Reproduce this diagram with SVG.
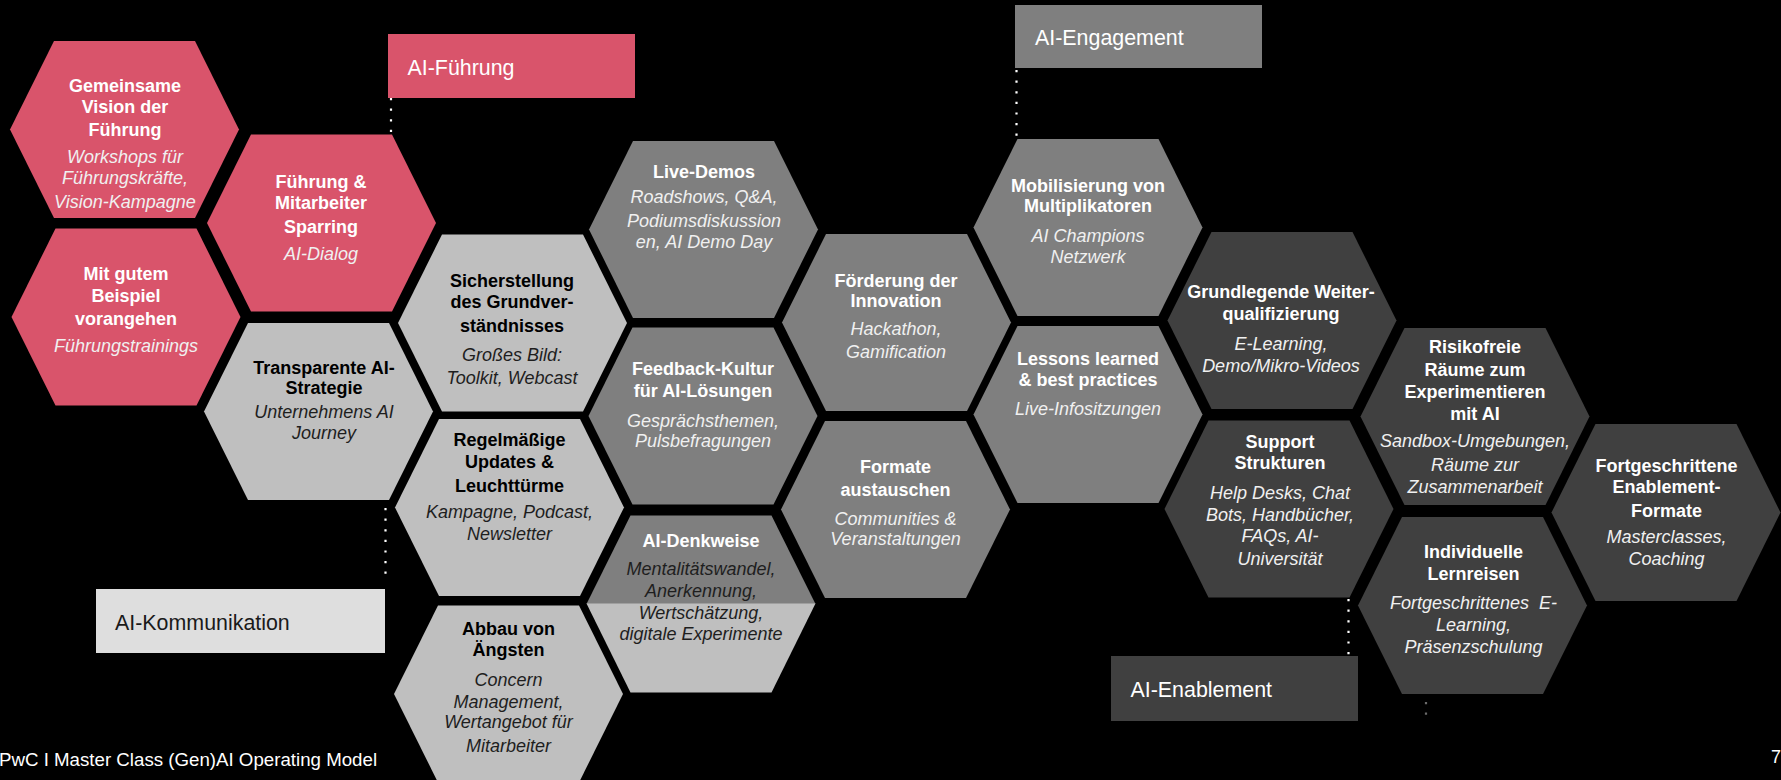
<svg xmlns="http://www.w3.org/2000/svg" xmlns:xlink="http://www.w3.org/1999/xlink" width="1781" height="780" viewBox="0 0 1781 780">
<style>
.bg{fill:#000}
.red{fill:#d9546b}
.lt{fill:#bfbfbf}
.md{fill:#7f7f7f}
.dk{fill:#404040}
text{font-family:"Liberation Sans",Arial,Helvetica,sans-serif;text-anchor:middle;font-size:18px}
.b{font-weight:bold}
.i{font-style:italic}
.w{fill:#ffffff}
.wi{fill:#f0f0f0}
.k{fill:#000000}
.ki{fill:#1e1e1e}
.lab{font-size:21.4px;text-anchor:start}
.dot{stroke:#ffffff;stroke-width:2.2;stroke-dasharray:2.2 8.4;fill:none}
</style>
<defs>
<polygon id="hex" points="-114.5,0 -70.5,-88.5 70.5,-88.5 114.5,0 70.5,88.5 -70.5,88.5"/>
</defs>
<rect class="bg" x="0" y="0" width="1781" height="780"/>

<g id="connectors">
<line class="dot" x1="391" y1="98" x2="391" y2="134"/>
<line class="dot" x1="1016.5" y1="70" x2="1016.5" y2="140"/>
<line class="dot" x1="385.5" y1="508" x2="385.5" y2="580"/>
<line class="dot" x1="1348.5" y1="599" x2="1348.5" y2="656"/>
<line class="dot" x1="1426" y1="702" x2="1426" y2="716" style="stroke:#6a6a6a"/>
</g>

<g id="label-fuehrung">
<rect class="red" x="388" y="34" width="247" height="64"/>
<text class="lab w" x="407.5" y="75">AI-Führung</text>
</g>
<g id="label-engagement">
<rect class="md" x="1015" y="5" width="247" height="63"/>
<text class="lab w" x="1035" y="45">AI-Engagement</text>
</g>
<g id="label-kommunikation">
<rect x="96" y="589" width="289" height="64" fill="#dedede"/>
<text class="lab" x="115" y="630" fill="#1a1a1a">AI-Kommunikation</text>
</g>
<g id="label-enablement">
<rect class="dk" x="1111" y="656" width="247" height="65"/>
<text class="lab w" x="1130.5" y="697">AI-Enablement</text>
</g>

<g id="n1">
<use href="#hex" class="red" transform="translate(124.5,129.5)"/>
<text class="b w" x="125" y="91.7">Gemeinsame</text>
<text class="b w" x="125" y="112.7">Vision der</text>
<text class="b w" x="125" y="136">Führung</text>
<text class="i wi" x="125" y="163.3">Workshops für</text>
<text class="i wi" x="125" y="184">Führungskräfte,</text>
<text class="i wi" x="125" y="208">Vision-Kampagne</text>
</g>
<g id="n2">
<use href="#hex" class="red" transform="translate(126,317)"/>
<text class="b w" x="126" y="280">Mit gutem</text>
<text class="b w" x="126" y="301.7">Beispiel</text>
<text class="b w" x="126" y="325">vorangehen</text>
<text class="i wi" x="126" y="351.7">Führungstrainings</text>
</g>
<g id="n3">
<use href="#hex" class="red" transform="translate(321.5,223)"/>
<text class="b w" x="321" y="187.7">Führung &amp;</text>
<text class="b w" x="321" y="209.3">Mitarbeiter</text>
<text class="b w" x="321" y="232.7">Sparring</text>
<text class="i wi" x="321" y="260">AI-Dialog</text>
</g>

<g id="n4">
<use href="#hex" class="lt" transform="translate(318.5,411.5)"/>
<text class="b k" x="324" y="374">Transparente AI-</text>
<text class="b k" x="324" y="394">Strategie</text>
<text class="i ki" x="324" y="418.3">Unternehmens AI</text>
<text class="i ki" x="324" y="439.3">Journey</text>
</g>
<g id="n5">
<use href="#hex" class="lt" transform="translate(512.5,323)"/>
<text class="b k" x="512" y="287.3">Sicherstellung</text>
<text class="b k" x="512" y="308.3">des Grundver-</text>
<text class="b k" x="512" y="331.7">ständnisses</text>
<text class="i ki" x="512" y="361">Großes Bild:</text>
<text class="i ki" x="512" y="384">Toolkit, Webcast</text>
</g>
<g id="n6">
<use href="#hex" class="lt" transform="translate(509.5,507.5)"/>
<text class="b k" x="509.5" y="446">Regelmäßige</text>
<text class="b k" x="509.5" y="468.3">Updates &amp;</text>
<text class="b k" x="509.5" y="491.7">Leuchttürme</text>
<text class="i ki" x="509.5" y="518.3">Kampagne, Podcast,</text>
<text class="i ki" x="509.5" y="540">Newsletter</text>
</g>
<g id="n7">
<use href="#hex" class="lt" transform="translate(508.5,694)"/>
<text class="b k" x="508.5" y="635">Abbau von</text>
<text class="b k" x="508.5" y="656">Ängsten</text>
<text class="i ki" x="508.5" y="686">Concern</text>
<text class="i ki" x="508.5" y="707.7">Management,</text>
<text class="i ki" x="508.5" y="728.3">Wertangebot für</text>
<text class="i ki" x="508.5" y="751.7">Mitarbeiter</text>
</g>

<g id="n8">
<use href="#hex" class="md" transform="translate(703.5,229.5)"/>
<text class="b w" x="704" y="177.7">Live-Demos</text>
<text class="i wi" x="704" y="203.3">Roadshows, Q&amp;A,</text>
<text class="i wi" x="704" y="226.7">Podiumsdiskussion</text>
<text class="i wi" x="704" y="248.3">en, AI Demo Day</text>
</g>
<g id="n9">
<use href="#hex" class="md" transform="translate(703,416)"/>
<text class="b w" x="703" y="375">Feedback-Kultur</text>
<text class="b w" x="703" y="396.7">für AI-Lösungen</text>
<text class="i wi" x="703" y="426.7">Gesprächsthemen,</text>
<text class="i wi" x="703" y="446.7">Pulsbefragungen</text>
</g>
<g id="n10">
<polygon class="md" points="586.5,604 630.5,515.5 771.5,515.5 815.5,604"/>
<polygon class="lt" points="586.5,603.5 815.5,603.5 771.5,692.5 630.5,692.5"/>
<text class="b w" x="701" y="546.7">AI-Denkweise</text>
<text class="i ki" x="701" y="575">Mentalitätswandel,</text>
<text class="i ki" x="701" y="596.7">Anerkennung,</text>
<text class="i ki" x="701" y="619.3">Wertschätzung,</text>
<text class="i ki" x="701" y="640">digitale Experimente</text>
</g>
<g id="n11">
<use href="#hex" class="md" transform="translate(896.5,322.5)"/>
<text class="b w" x="896" y="286.7">Förderung der</text>
<text class="b w" x="896" y="306.7">Innovation</text>
<text class="i wi" x="896" y="335">Hackathon,</text>
<text class="i wi" x="896" y="358.3">Gamification</text>
</g>
<g id="n12">
<use href="#hex" class="md" transform="translate(895.5,509.5)"/>
<text class="b w" x="895.5" y="473.3">Formate</text>
<text class="b w" x="895.5" y="495.7">austauschen</text>
<text class="i wi" x="895.5" y="525">Communities &amp;</text>
<text class="i wi" x="895.5" y="545">Veranstaltungen</text>
</g>
<g id="n13">
<use href="#hex" class="md" transform="translate(1088,227.5)"/>
<text class="b w" x="1088" y="191.7">Mobilisierung von</text>
<text class="b w" x="1088" y="211.7">Multiplikatoren</text>
<text class="i wi" x="1088" y="241.7">AI Champions</text>
<text class="i wi" x="1088" y="263.3">Netzwerk</text>
</g>
<g id="n14">
<use href="#hex" class="md" transform="translate(1088,414.5)"/>
<text class="b w" x="1088" y="365">Lessons learned</text>
<text class="b w" x="1088" y="385.7">&amp; best practices</text>
<text class="i wi" x="1088" y="415">Live-Infositzungen</text>
</g>

<g id="n15">
<use href="#hex" class="dk" transform="translate(1282,320.5)"/>
<text class="b w" x="1281" y="297.7">Grundlegende Weiter-</text>
<text class="b w" x="1281" y="320">qualifizierung</text>
<text class="i wi" x="1281" y="350">E-Learning,</text>
<text class="i wi" x="1281" y="371.7">Demo/Mikro-Videos</text>
</g>
<g id="n16">
<use href="#hex" class="dk" transform="translate(1279,509)"/>
<text class="b w" x="1280" y="447.7">Support</text>
<text class="b w" x="1280" y="469.3">Strukturen</text>
<text class="i wi" x="1280" y="499">Help Desks, Chat</text>
<text class="i wi" x="1280" y="521">Bots, Handbücher,</text>
<text class="i wi" x="1280" y="542.3">FAQs, AI-</text>
<text class="i wi" x="1280" y="565">Universität</text>
</g>
<g id="n17">
<use href="#hex" class="dk" transform="translate(1475,416.5)"/>
<text class="b w" x="1475" y="353.3">Risikofreie</text>
<text class="b w" x="1475" y="376">Räume zum</text>
<text class="b w" x="1475" y="398.3">Experimentieren</text>
<text class="b w" x="1475" y="420">mit AI</text>
<text class="i wi" x="1475" y="446.7">Sandbox-Umgebungen,</text>
<text class="i wi" x="1475" y="471">Räume zur</text>
<text class="i wi" x="1475" y="492.7">Zusammenarbeit</text>
</g>
<g id="n18">
<use href="#hex" class="dk" transform="translate(1472.5,605.5)"/>
<text class="b w" x="1473.5" y="558.3">Individuelle</text>
<text class="b w" x="1473.5" y="580">Lernreisen</text>
<text class="i wi" x="1473.5" y="609.3">Fortgeschrittenes&#160; E-</text>
<text class="i wi" x="1473.5" y="631">Learning,</text>
<text class="i wi" x="1473.5" y="652.7">Präsenzschulung</text>
</g>
<g id="n19">
<use href="#hex" class="dk" transform="translate(1666,512.5)"/>
<text class="b w" x="1666.5" y="471.7">Fortgeschrittene</text>
<text class="b w" x="1666.5" y="493.3">Enablement-</text>
<text class="b w" x="1666.5" y="516.7">Formate</text>
<text class="i wi" x="1666.5" y="543.3">Masterclasses,</text>
<text class="i wi" x="1666.5" y="565">Coaching</text>
</g>

<g id="footer">
<text x="-1" y="765.5" style="text-anchor:start;font-size:18.7px" fill="#ffffff">PwC I Master Class (Gen)AI Operating Model</text>
<text x="1771" y="763" style="text-anchor:start;font-size:18px" fill="#ffffff">7</text>
</g>
</svg>
